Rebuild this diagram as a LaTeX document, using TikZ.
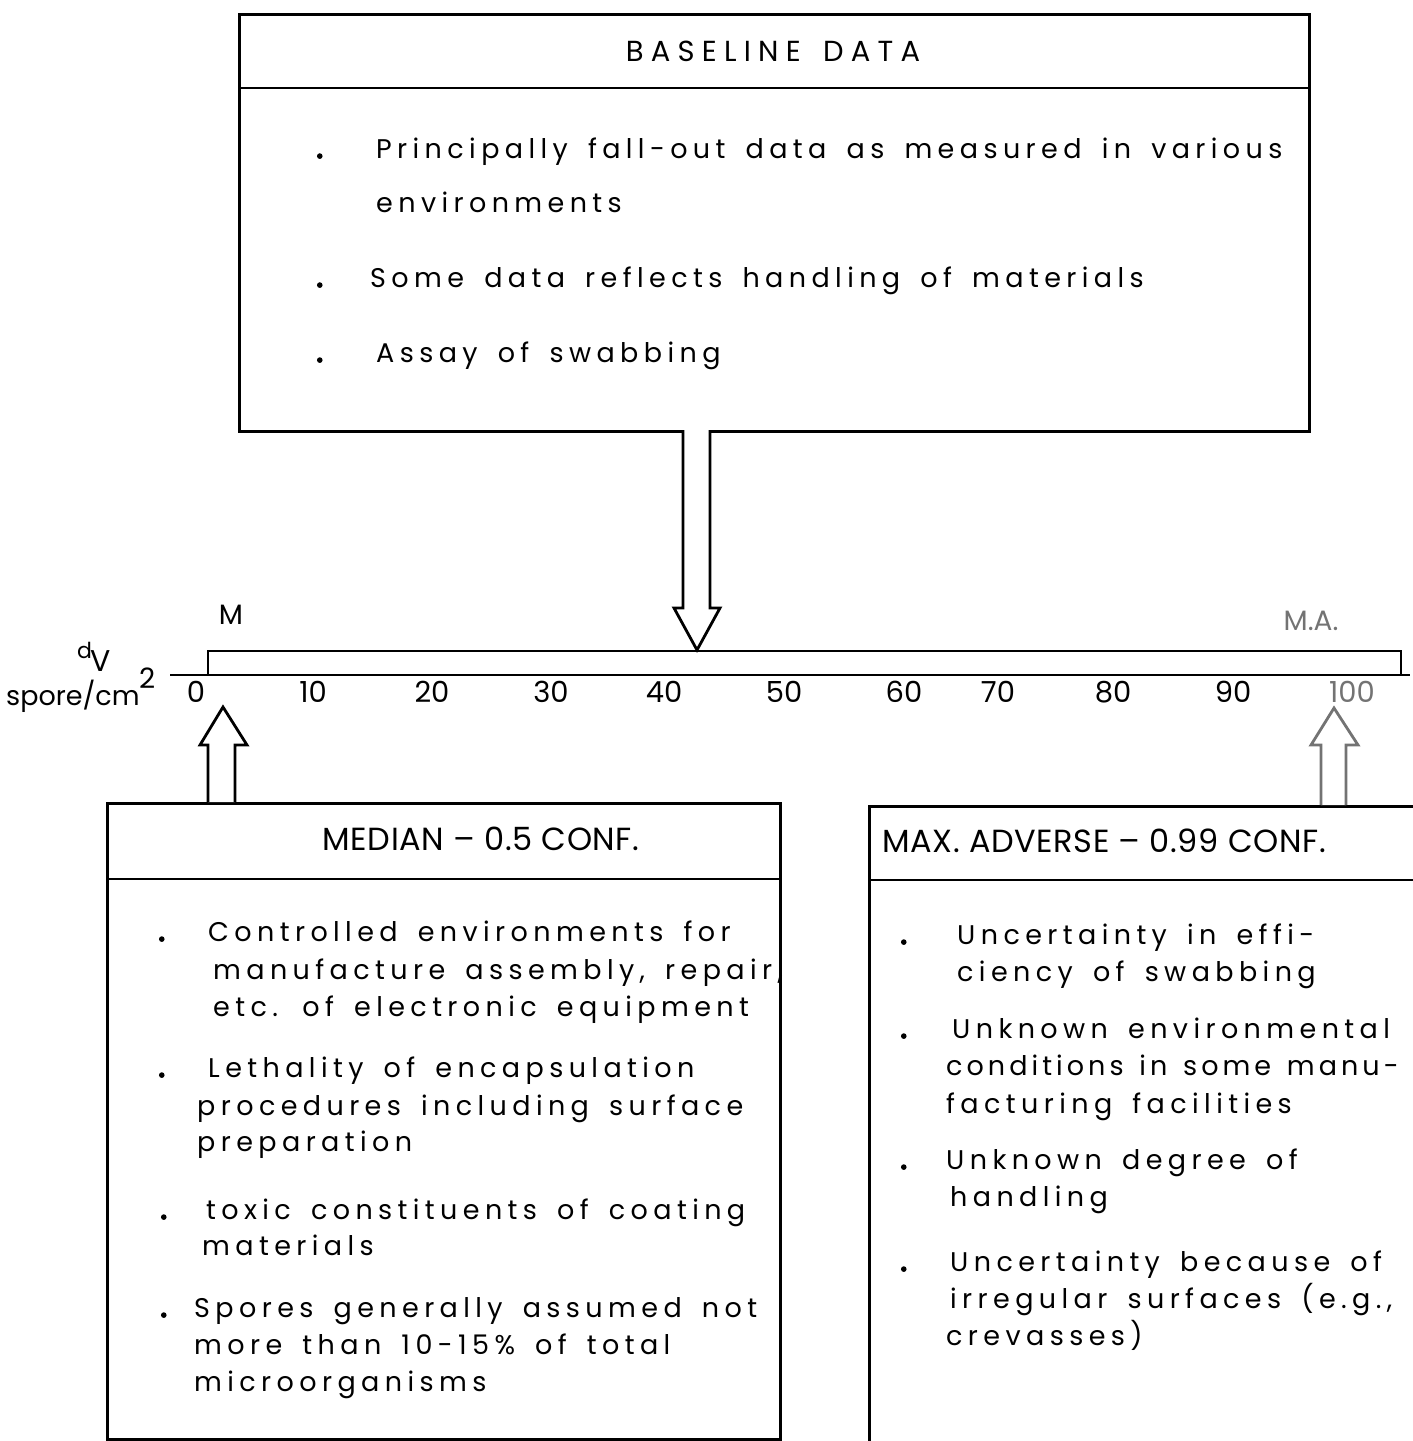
\documentclass[tikz,border=0pt]{standalone}
\usepackage{fontspec}
\newfontfamily\typew[LetterSpace=20,WordSpace=1.6]{Poppins}
\newfontfamily\typewn[LetterSpace=15,WordSpace=1.4]{Poppins}
\newfontfamily\headf[LetterSpace=25,WordSpace=1.5]{Poppins}
\newfontfamily\hdrf[LetterSpace=2]{Poppins}
\newfontfamily\plainf{Poppins}
\newfontfamily\dotf[FakeBold=4]{Poppins}
\usetikzlibrary{calc}
\begin{document}
\begin{tikzpicture}[x=1pt,y=-1pt,
  frame/.style={draw, line width=2.6pt},
  rule/.style={line width=2.6pt},
  blk/.style={draw, line width=2.8pt, line join=miter, fill=white},
  body/.style={anchor=base west, inner sep=0pt, font=\typew\fontsize{27}{27}\selectfont},
  dot/.style={anchor=base west, inner sep=0pt, font=\dotf\fontsize{34}{34}\selectfont},
  hdr/.style={anchor=base, inner sep=0pt, font=\hdrf\fontsize{32}{32}\selectfont},
  num/.style={anchor=base, inner sep=0pt, font=\plainf\fontsize{29}{29}\selectfont},
  faint/.style={text=black!55}]
\useasboundingbox (0,0) rectangle (1413,1441);
\clip (0,0) rectangle (1413,1441);

% ---------- boxes ----------
\node[frame, anchor=north west, minimum width=1070pt, minimum height=417pt, inner sep=0pt] (base) at (238,13) {};
\draw[rule] (238,88) -- (1308,88);
\node[frame, anchor=north west, minimum width=673pt, minimum height=636pt, inner sep=0pt] (med) at (106,802) {};
\draw[rule] (106,879) -- (779,879);
\node[frame, anchor=north west, minimum width=600pt, minimum height=680pt, inner sep=0pt] (adv) at (868,805) {};
\draw[rule] (868,880) -- (1468,880);

% ---------- scale ----------
\coordinate (axl) at (170,675);
\coordinate (axr) at (1410,675);
\draw[rule] (axl) -- (axr);
\draw[rule] (208,675) -- (208,651) -- (1401,651) -- (1401,675);
\foreach \v/\x in {0/196,10/313,20/432,30/551,40/664,50/784,60/904,70/998,80/1113,90/1233}
  \node[num] (t\v) at (\x,702) {\v};
\node[num, faint] (t100) at (1352,702) {100};
\node[num, font=\plainf\fontsize{28}{28}\selectfont] (mM) at (231,624) {M};
\node[num, faint, font=\plainf\fontsize{28}{28}\selectfont] (mMA) at (1311,630) {M.A.};
\node[anchor=base west, inner sep=0pt, font=\plainf\fontsize{22}{22}\selectfont] (dd) at (77,658) {d};
\node[anchor=base west, inner sep=0pt, font=\plainf\fontsize{30}{30}\selectfont] (dV) at (90,671) {V};
\node[anchor=base west, inner sep=0pt, font=\plainf\fontsize{27}{27}\selectfont] (sp) at (6,705) {spore/cm};
\node[anchor=base west, inner sep=0pt, font=\plainf\fontsize{28}{28}\selectfont] (sq) at (139,688) {2};

% ---------- block arrows ----------
\coordinate (dtip) at (697,650);
\draw[blk] (683,430) -- (683,608) -- (674,608) -- (dtip) -- (720,608) -- (710,608) -- (710,430);
\coordinate (ltip) at (223,707);
\draw[blk] (208,802) -- (208,745) -- (200,745) -- (ltip) -- (247,745) -- (235,745) -- (235,802);
\coordinate (rtip) at (1334,708);
\draw[blk, draw=black!55] (1321,805) -- (1321,745) -- (1311,745) -- (rtip) -- (1358,745) -- (1346,745) -- (1346,805);

% ---------- headers ----------
\node[anchor=base, inner sep=0pt, font=\headf\fontsize{29}{29}\selectfont] (h1) at (773,61) {BASELINE DATA};
\node[hdr] (h2) at (481,850) {MEDIAN – 0.5 CONF.};
\node[hdr, anchor=base west] (h3) at (882,852) {MAX. ADVERSE – 0.99 CONF.};

% ---------- baseline text ----------
\node[dot] (b1) at (316,158) {.};
\node[body] (l1) at (376,158) {Principally fall-out data as measured in various};
\node[body] (l1b) at (376,212) {environments};
\node[dot] (b2) at (316,287) {.};
\node[body] (l2) at (370,287) {Some data reflects handling of materials};
\node[dot] (b3) at (316,362) {.};
\node[body] (l3) at (376,362) {Assay of swabbing};

% ---------- median text ----------
\node[dot] (m1d) at (158,941) {.};
\node[body] (m1) at (208,941) {Controlled environments for};
\node[body] (m1b) at (213,979) {manufacture assembly, repair,};
\node[body] (m1c) at (213,1016) {etc. of electronic equipment};
\node[dot] (m2d) at (158,1077) {.};
\node[body] (m2) at (208,1077) {Lethality of encapsulation};
\node[body] (m2b) at (197,1115) {procedures including surface};
\node[body] (m2c) at (197,1151) {preparation};
\node[dot] (m3d) at (160,1219) {.};
\node[body] (m3) at (206,1219) {toxic constituents of coating};
\node[body] (m3b) at (202,1255) {materials};
\node[dot] (m4d) at (160,1317) {.};
\node[body] (m4) at (194,1317) {Spores generally assumed not};
\node[body] (m4b) at (194,1354) {more than 10-15\% of total};
\node[body] (m4c) at (194,1391) {microorganisms};

% ---------- adverse text ----------
\node[dot] (a1d) at (900,944) {.};
\node[body] (a1) at (957,944) {Uncertainty in effi-};
\node[body] (a1b) at (957,981) {ciency of swabbing};
\node[dot] (a2d) at (900,1038) {.};
\node[body] (a2) at (952,1038) {Unknown environmental};
\node[body, font=\typewn\fontsize{27}{27}\selectfont] (a2b) at (946,1075) {conditions in some manu-};
\node[body] (a2c) at (946,1113) {facturing facilities};
\node[dot] (a3d) at (900,1169) {.};
\node[body] (a3) at (946,1169) {Unknown degree of};
\node[body] (a3b) at (950,1206) {handling};
\node[dot] (a4d) at (900,1271) {.};
\node[body] (a4) at (950,1271) {Uncertainty because of};
\node[body] (a4b) at (950,1308) {irregular surfaces (e.g.,};
\node[body] (a4c) at (946,1345) {crevasses)};
\end{tikzpicture}
\end{document}
